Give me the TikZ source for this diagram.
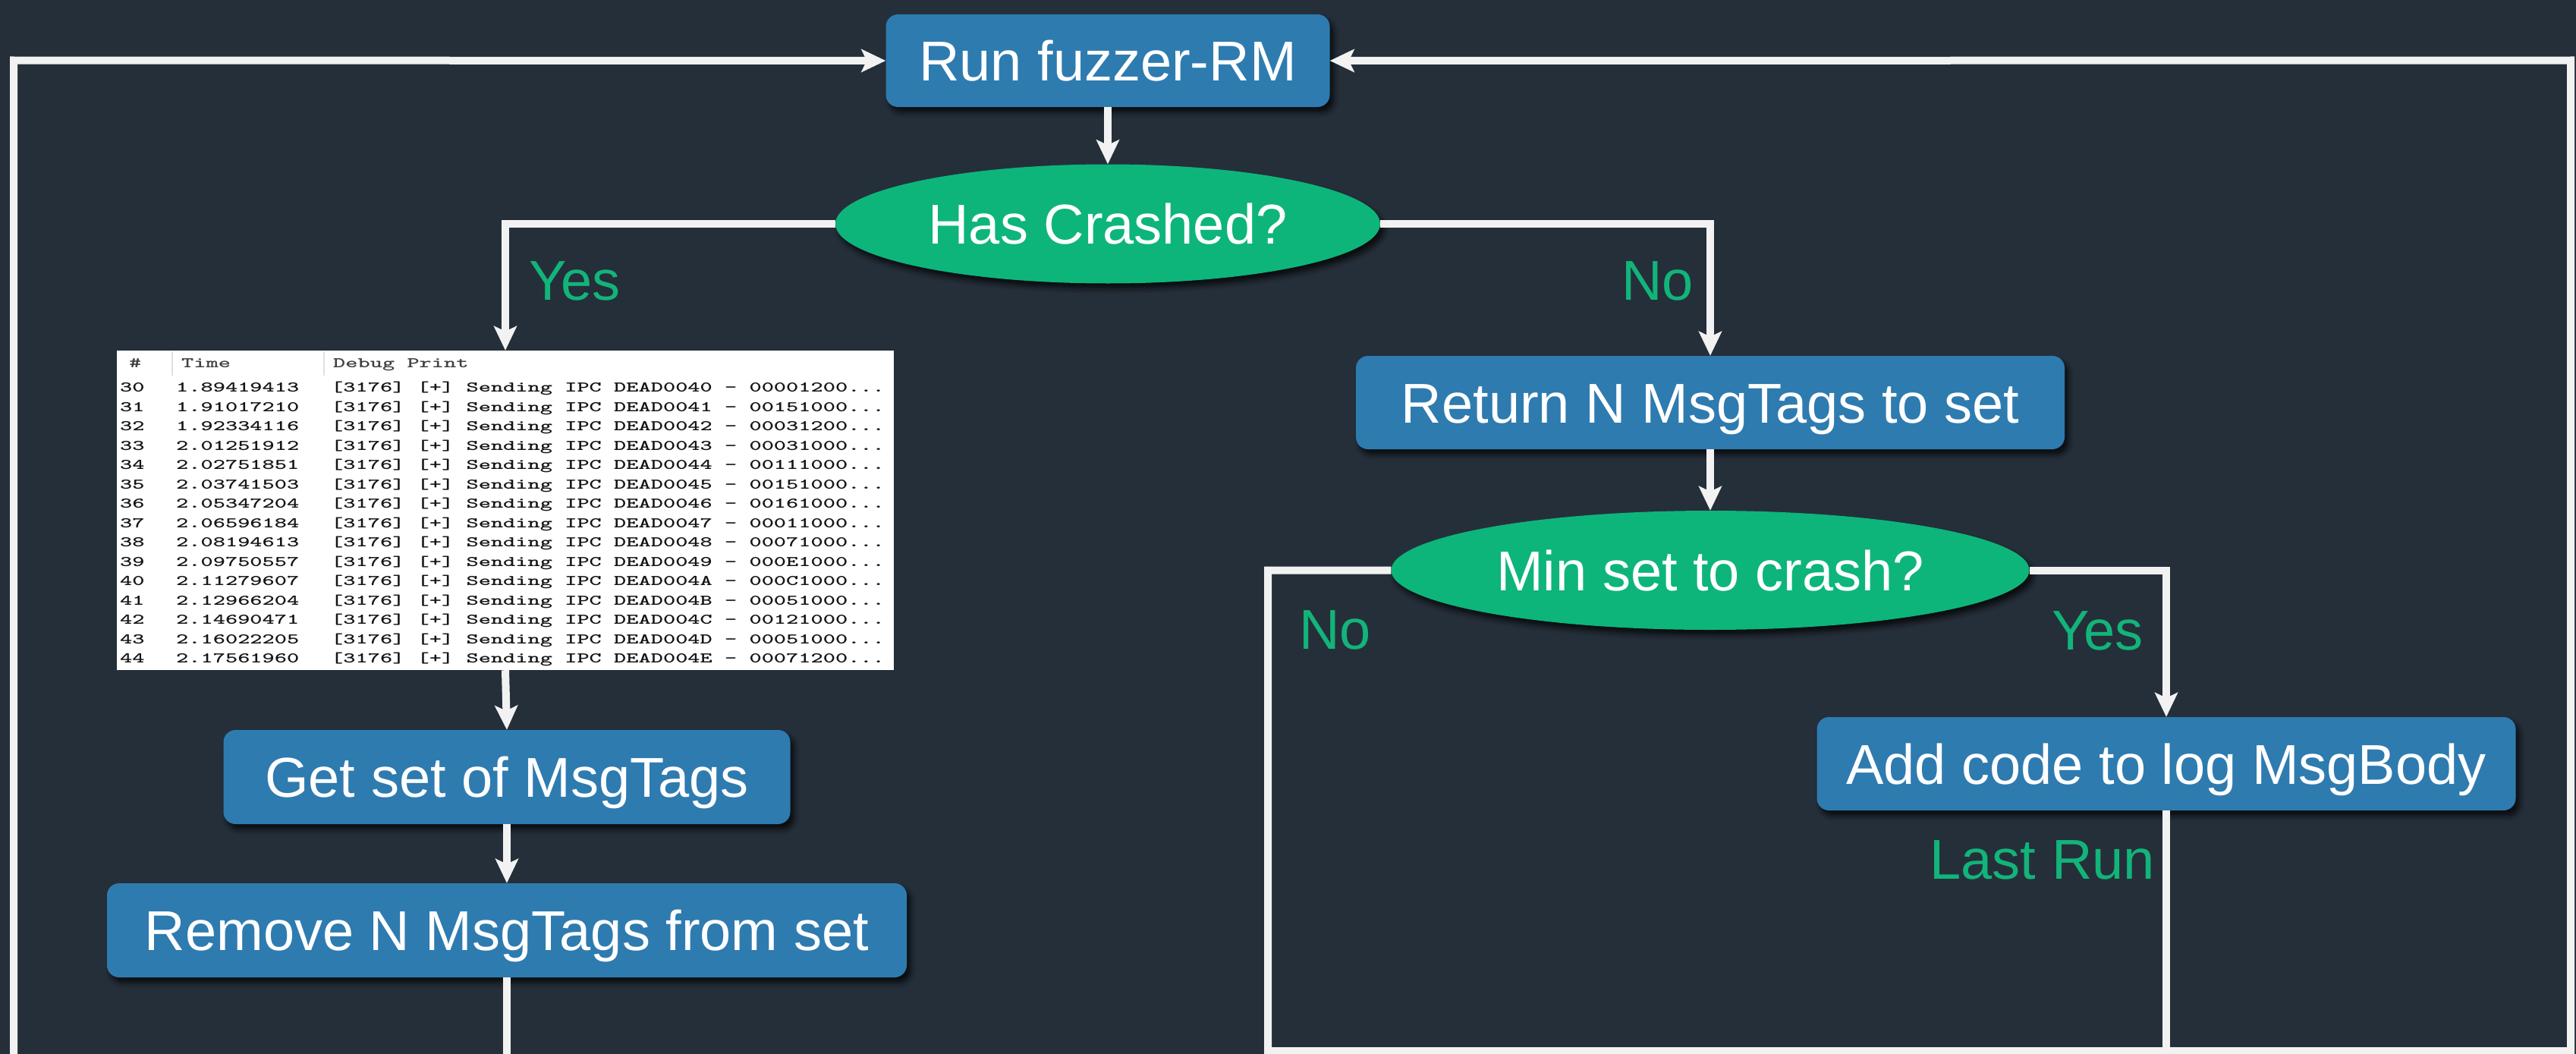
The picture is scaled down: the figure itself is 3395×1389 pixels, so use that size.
\documentclass[tikz,border=0pt]{standalone}
\usepackage{fontspec}
\setmainfont{Liberation Sans}
\usetikzlibrary{arrows.meta,shapes.geometric,shadows.blur}
\definecolor{bg}{HTML}{252F3A}
\definecolor{boxblue}{HTML}{2E7BB0}
\definecolor{ellgreen}{HTML}{0DB57B}
\definecolor{lblgreen}{HTML}{12B47A}
\definecolor{linewhite}{HTML}{F2F2F2}
\definecolor{logtext}{HTML}{151515}
\definecolor{loghead}{HTML}{404040}
\newcommand{\logtxt}[1]{\scalebox{1.584}[1]{#1}}
\tikzset{
  bigfont/.style={font=\fontsize{74}{80}\selectfont, text height=53pt, text depth=0pt},
  shade/.style={blur shadow={shadow xshift=5pt, shadow yshift=-7pt, shadow blur radius=7pt, shadow opacity=75}},
  stepbox/.style={rectangle, rounded corners=16pt, fill=boxblue, text=white, bigfont, inner sep=0pt, shade},
  decision/.style={ellipse, fill=ellgreen, text=white, bigfont, inner sep=0pt, shade},
  flow/.style={draw=linewhite, line width=10pt, -{Stealth[length=32pt,width=30pt,inset=7pt]}},
  wire/.style={draw=linewhite, line width=10pt},
  lbl/.style={text=lblgreen, bigfont, inner sep=0pt},
  logcell/.style={text=logtext, font=\ttfamily\bfseries\fontsize{19.5}{21}\selectfont, text height=11.5pt, text depth=0pt, anchor=west, inner sep=0pt},
  loghd/.style={logcell, text=loghead},
}
\begin{document}
\begin{tikzpicture}[x=1pt,y=-1pt]
\useasboundingbox (0,0) rectangle (3395,1389);
\fill[bg] (0,0) rectangle (3395,1389);

% nodes
\node[stepbox, minimum width=585pt, minimum height=122pt] (run) at (1460,80) {Run fuzzer-RM};
\node[decision, minimum width=718pt, minimum height=157pt] (crash) at (1460,295) {Has Crashed?};
\node[rectangle, fill=white, inner sep=0pt, minimum width=1024pt, minimum height=421pt] (log) at (666,672.5) {};
\node[stepbox, minimum width=747pt, minimum height=124pt] (get) at (668,1024) {Get set of MsgTags};
\node[stepbox, minimum width=1054pt, minimum height=124pt] (remove) at (668,1226) {Remove N MsgTags from set};
\node[stepbox, minimum width=934pt, minimum height=123pt] (ret) at (2254,530.5) {Return N MsgTags to set};
\node[decision, minimum width=841pt, minimum height=157pt] (minset) at (2254,751.5) {Min set to crash?};
\node[stepbox, minimum width=921pt, minimum height=123pt] (add) at (2855,1006.5) {Add code to log MsgBody};

% log table contents
\draw[black!12, line width=1.5pt] (227,463) -- (227,495) (427,463) -- (427,495);
\node[loghd] (hnum) at (170,479) {\logtxt{\#}};
\node[loghd] (htime) at (239,479) {\logtxt{Time}};
\node[loghd] (hdbg) at (439,479) {\logtxt{Debug Print}};
\foreach \rowno/\rowtime/\rowtag/\rowval in {
 30/1.89419413/0040/00001200, 31/1.91017210/0041/00151000,
 32/1.92334116/0042/00031200, 33/2.01251912/0043/00031000,
 34/2.02751851/0044/00111000, 35/2.03741503/0045/00151000,
 36/2.05347204/0046/00161000, 37/2.06596184/0047/00011000,
 38/2.08194613/0048/00071000, 39/2.09750557/0049/000E1000,
 40/2.11279607/004A/000C1000, 41/2.12966204/004B/00051000,
 42/2.14690471/004C/00121000, 43/2.16022205/004D/00051000,
 44/2.17561960/004E/00071200}{
  \node[logcell] (num\rowno) at (158,{511+25.5*(\rowno-30)}) {\logtxt{\rowno}};
  \node[logcell] (time\rowno) at (232,{511+25.5*(\rowno-30)}) {\logtxt{\rowtime}};
  \node[logcell] (msg\rowno) at (436,{511+25.5*(\rowno-30)}) {\logtxt{[3176] [+] Sending IPC DEAD\rowtag{} - \rowval...}};
}

% helper coordinates
\coordinate (botL) at (668,1389);
\coordinate (loopTL) at (18,79.5);
\coordinate (loopBL) at (18,1389);
\coordinate (cornBL) at (1671,1385);
\coordinate (cornBR) at (3388,1385);
\coordinate (cornTR) at (3388,79.5);
\coordinate (joinR) at (2855,1385);

% connectors
\draw[flow] (run.south) -- (crash.north);
\draw[flow] (crash.west) -| (log.north);
\draw[flow] (crash.east) -| (ret.north);
\draw[flow] (log.south) -- (get.north);
\draw[flow] (get.south) -- (remove.north);
\draw[wire] (remove.south) -- (botL);
\draw[flow] (ret.south) -- (minset.north);
\draw[flow] (minset.east) -| (add.north);
\draw[wire] (add.south) -- (joinR);
\draw[flow] (minset.west) -| (cornBL) -- (cornBR) -- (cornTR) -- (run.east);
\draw[flow] (loopBL) -- (loopTL) -- (run.west);

% labels
\node[lbl, anchor=west] (yes1) at (697,369) {Yes};
\node[lbl, anchor=east] (no1) at (2232,369) {No};
\node[lbl, anchor=west] (no2) at (1712,829) {No};
\node[lbl, anchor=east] (yes2) at (2825,830) {Yes};
\node[lbl, anchor=east] (lastrun) at (2840,1132) {Last Run};
\end{tikzpicture}
\end{document}
